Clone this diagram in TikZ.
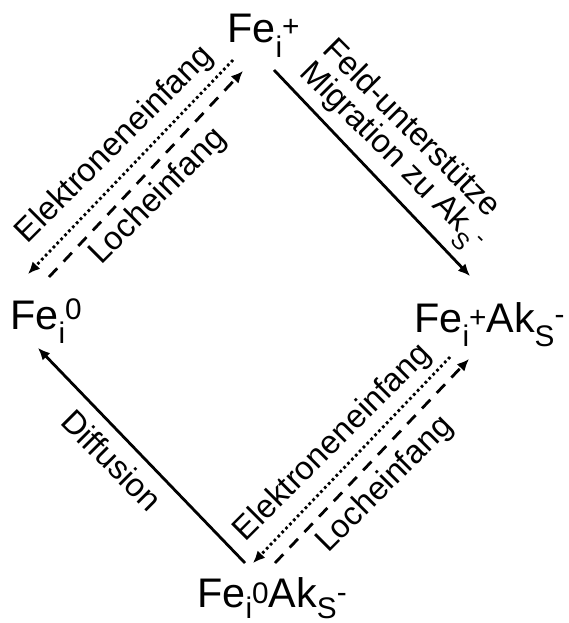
\documentclass[tikz,border=0pt]{standalone}
\usepackage{fontspec}
\setmainfont{Liberation Sans}
\usepackage{graphicx}
\usetikzlibrary{arrows.meta}
\newcommand{\lo}[2][0.36em]{\raisebox{-#1}{\scalebox{0.72}{#2}}}
\newcommand{\hi}[2][0.12em]{\raisebox{#1}{\scalebox{0.72}{#2}}}
\tikzset{
  species/.style={anchor=base west, inner sep=0pt, font=\fontsize{31}{32}\selectfont},
  lbl/.style={inner sep=0pt, font=\fontsize{24.5}{26}\selectfont},
  arr/.style={line width=2.1pt, -{Latex[length=9pt,width=8pt]}},
  dotarr/.style={arr, dash pattern=on 2pt off 2.2pt},
  dasharr/.style={arr, dash pattern=on 9pt off 7pt},
}
\begin{document}
\begin{tikzpicture}[x=0.75pt,y=-0.75pt]
\useasboundingbox (0,0) rectangle (568,623);
% species
\node[species] (top) at (227,42.7) {Fe\lo{i}\hi[0.16em]{+}};
\node[species] (left) at (10,329) {Fe\lo{i}\hi[0.24em]{0}};
\node[species] (right) at (414,332) {Fe\lo{i}\hi{+}Ak\lo{S}\hi[0.18em]{-}};
\node[species] (bottom) at (197,607) {Fe\lo[0.28em]{i}\hi[0.08em]{0}Ak\lo[0.28em]{S}\hi[0.12em]{-}};
% arrow endpoints
\coordinate (a1s) at (274,70);  \coordinate (a1e) at (470,276);
\coordinate (a2s) at (245,563); \coordinate (a2e) at (38,348);
\coordinate (a3s) at (233,60);  \coordinate (a3e) at (28,274);
\coordinate (a4s) at (49,277);  \coordinate (a4e) at (243,71);
\coordinate (a5s) at (450,357); \coordinate (a5e) at (253,563);
\coordinate (a6s) at (275,563); \coordinate (a6e) at (469,359);
\draw[arr] (a1s) -- (a1e);
\draw[arr] (a2s) -- (a2e);
\draw[dotarr] (a3s) -- (a3e);
\draw[dasharr] (a4s) -- (a4e);
\draw[dotarr] (a5s) -- (a5e);
\draw[dasharr] (a6s) -- (a6e);
% labels
\node[lbl, rotate=45] (e1) at (115,145) {Elektroneneinfang};
\node[lbl, rotate=45] (l1) at (158,197) {Locheinfang};
\node[lbl, rotate=-45] (f1) at (413,127) {Feld-unterstütze};
\node[lbl, rotate=-45] (m1) at (391,158) {Migration zu Ak\lo{S}\hi[0.18em]{-}};
\node[lbl, rotate=-45] (d1) at (112,460) {Diffusion};
\node[lbl, rotate=45] (e2) at (333,443) {Elektroneneinfang};
\node[lbl, rotate=45] (l2) at (385,485) {Locheinfang};
\end{tikzpicture}
\end{document}
